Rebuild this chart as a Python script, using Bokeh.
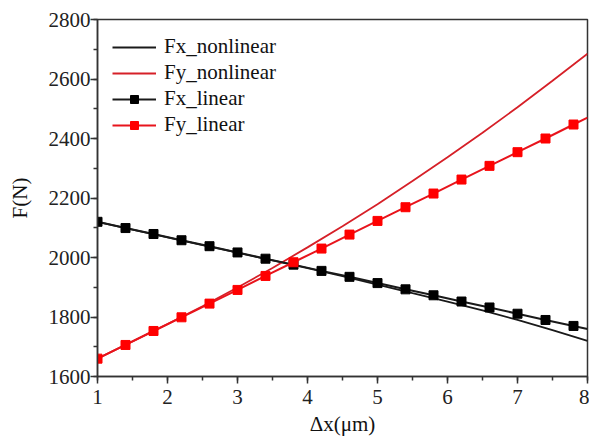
from bokeh.plotting import figure
from bokeh.models import Legend, LegendItem, SingleIntervalTicker, Range1d
from bokeh.embed import file_html
from bokeh.resources import INLINE

# ---- data ----
x_nl = [1.0, 1.5, 2.0, 2.5, 3.0, 3.5, 4.0, 4.5, 5.0, 5.5, 6.0, 6.5, 7.0, 7.5, 8.0]
fx_nonlinear = [2120, 2094, 2068, 2042, 2016, 1990, 1964, 1937, 1909, 1880, 1852, 1822, 1790, 1756, 1720]
fy_nonlinear = [1660, 1718, 1776, 1836, 1899, 1965, 2034, 2105, 2179, 2257, 2337, 2419, 2505, 2594, 2685]

x_lin = [1.0, 1.4, 1.8, 2.2, 2.6, 3.0, 3.4, 3.8, 4.2, 4.6, 5.0, 5.4, 5.8, 6.2, 6.6, 7.0, 7.4, 7.8]
fx_linear = [2120, 2099, 2079, 2058, 2038, 2017, 1996, 1976, 1955, 1935, 1914, 1893, 1873, 1852, 1832, 1811, 1790, 1770]
fy_linear = [1660, 1706, 1753, 1799, 1845, 1891, 1938, 1984, 2030, 2077, 2123, 2169, 2215, 2262, 2308, 2354, 2400, 2447]
# line end points (curves run to x = 8)
x_lin_end = 8.0
fx_linear_end = 1760
fy_linear_end = 2470

x_ticks_interval = 1
y_ticks_interval = 200

FONT = "Liberation Serif"
RED = "#e8141c"
RED_LINE = "#d62028"
BLACK = "#1a1a1a"

p = figure(width=589, height=440,
           x_range=Range1d(1, 8), y_range=Range1d(1600, 2800),
           output_backend="svg", toolbar_location=None,
           min_border_left=97, min_border_right=2,
           min_border_top=19, min_border_bottom=64)

p.xgrid.visible = False
p.ygrid.visible = False
p.outline_line_color = "#333333"
p.outline_line_width = 1.5
p.outline_line_alpha = 1.0

p.xaxis.ticker = SingleIntervalTicker(interval=x_ticks_interval, num_minor_ticks=2)
p.yaxis.ticker = SingleIntervalTicker(interval=y_ticks_interval, num_minor_ticks=2)
for ax in (p.xaxis, p.yaxis):
    ax.axis_line_color = "#333333"
    ax.axis_line_width = 1.5
    ax.major_tick_line_color = "#333333"
    ax.minor_tick_line_color = "#333333"
    ax.major_tick_line_width = 1.5
    ax.minor_tick_line_width = 1.5
    ax.major_tick_out = 7
    ax.major_tick_in = 0
    ax.minor_tick_out = 4
    ax.minor_tick_in = 0
    ax.major_label_text_font = FONT
    ax.major_label_text_font_size = "21px"
    ax.major_label_text_color = "#222222"
    ax.axis_label_text_font = FONT
    ax.axis_label_text_font_size = "21px"
    ax.axis_label_text_font_style = "normal"
    ax.axis_label_text_color = "#111111"
p.xaxis.major_label_standoff = 6
p.yaxis.major_label_standoff = 0
p.xaxis.axis_label = "Δx(μm)"
p.yaxis.axis_label = "F(N)"
p.xaxis.axis_label_standoff = 5
p.yaxis.axis_label_standoff = 14

# ---- series ----
r_fx_nl = p.line(x_nl, fx_nonlinear, line_color=BLACK, line_width=1.8)
r_fy_nl = p.line(x_nl, fy_nonlinear, line_color=RED_LINE, line_width=1.8)

r_fx_l_line = p.line(x_lin + [x_lin_end], fx_linear + [fx_linear_end], line_color=BLACK, line_width=2)
r_fx_l_pts = p.scatter(x_lin, fx_linear, marker="square", size=9, fill_color="black", line_color="black")
r_fy_l_line = p.line(x_lin + [x_lin_end], fy_linear + [fy_linear_end], line_color=RED, line_width=2)
r_fy_l_pts = p.scatter(x_lin, fy_linear, marker="square", size=9, fill_color="#ff0000", line_color="#ff0000")

legend = Legend(items=[
    LegendItem(label="Fx_nonlinear", renderers=[r_fx_nl]),
    LegendItem(label="Fy_nonlinear", renderers=[r_fy_nl]),
    LegendItem(label="Fx_linear", renderers=[r_fx_l_line, r_fx_l_pts]),
    LegendItem(label="Fy_linear", renderers=[r_fy_l_line, r_fy_l_pts]),
], location="top_left")
legend.margin = 0
legend.padding = 15
legend.spacing = 1
legend.glyph_width = 44
legend.glyph_height = 20
legend.label_height = 20
legend.label_standoff = 8
legend.label_text_font = FONT
legend.label_text_font_size = "21px"
legend.label_text_color = "#111111"
legend.border_line_alpha = 0
legend.background_fill_alpha = 0
p.add_layout(legend)

open("out.html", "w").write(file_html(p, INLINE))
